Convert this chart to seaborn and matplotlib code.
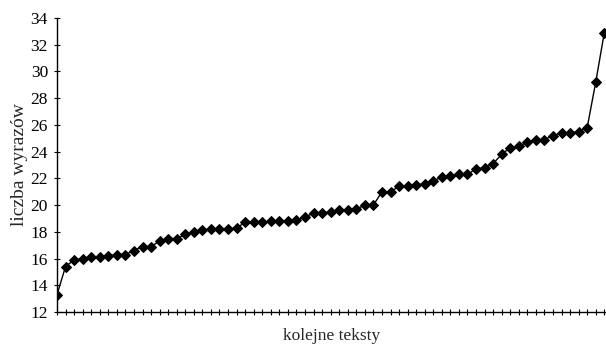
import numpy as np
import pandas as pd
import matplotlib
matplotlib.use('Agg')
import matplotlib.pyplot as plt
import seaborn as sns

# word counts for successive texts, sorted ascending
word_counts = [13.3, 15.4, 15.9, 16.0, 16.1, 16.1, 16.2, 16.3, 16.3, 16.6,
               16.9, 16.9, 17.3, 17.5, 17.5, 17.8, 18.0, 18.1, 18.2, 18.2,
               18.2, 18.3, 18.7, 18.7, 18.7, 18.8, 18.8, 18.8, 18.9, 19.1,
               19.4, 19.4, 19.5, 19.6, 19.6, 19.7, 20.0, 20.0, 21.0, 21.0,
               21.4, 21.4, 21.5, 21.6, 21.8, 22.1, 22.2, 22.3, 22.3, 22.7,
               22.8, 23.1, 23.8, 24.3, 24.4, 24.7, 24.9, 24.9, 25.2, 25.4,
               25.4, 25.5, 25.8, 29.2, 32.9]
text_index = list(range(len(word_counts)))
y_ticks = list(range(12, 35, 2))

df = pd.DataFrame({'tekst': text_index, 'wyrazy': word_counts})

sns.set_style('white')
plt.rcParams['font.family'] = ['Liberation Serif', 'DejaVu Serif']

fig = plt.figure(figsize=(6.06, 3.49), dpi=100)
ax = fig.add_axes([57 / 606, 37 / 349, 549 / 606, 294 / 349])

sns.lineplot(data=df, x='tekst', y='wyrazy', color='black', marker='D',
             markersize=5.5, markeredgecolor='black', linewidth=1, ax=ax)

ax.set_xlim(0, 64.2)
ax.set_ylim(12, 34)
ax.set_yticks(y_ticks)
ax.set_xticks(text_index)
ax.set_xticklabels([])
ax.tick_params(axis='both', which='major', bottom=True, left=True,
               direction='inout', length=5, width=0.8,
               colors='black', labelsize=12.5, pad=4)

for side in ['top', 'right']:
    ax.spines[side].set_visible(False)
for side in ['left', 'bottom']:
    ax.spines[side].set_color('black')
    ax.spines[side].set_linewidth(1)

ax.set_xlabel('kolejne teksty', fontsize=12.5, labelpad=5)
ax.set_ylabel('liczba wyrazów', fontsize=14, labelpad=2)

fig.savefig('out.png', dpi=100)
